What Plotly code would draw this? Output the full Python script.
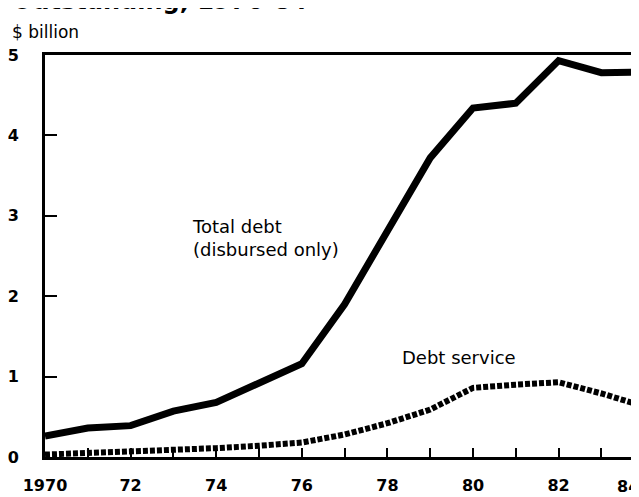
import plotly.graph_objects as go

years = list(range(1970, 1985))
total_debt = [0.26, 0.36, 0.39, 0.57, 0.68, 0.92, 1.16, 1.90, 2.82, 3.72, 4.34, 4.40, 4.93, 4.78, 4.79]
debt_service = [0.03, 0.05, 0.06, 0.08, 0.11, 0.14, 0.18, 0.28, 0.42, 0.59, 0.86, 0.90, 0.93, 0.79, 0.63]
x_tick_vals = list(range(1970, 1984))
x_tick_text = ["1970", "", "72", "", "74", "", "76", "", "78", "", "80", "", "82", ""]
y_tick_vals = [0, 1, 2, 3, 4, 5]
last_tick_label = "84"

FONT = "DejaVu Sans"
TICKFONT = dict(family=FONT, size=16, color="black", weight="bold")

fig = go.Figure()
fig.add_trace(go.Scatter(x=years, y=total_debt, mode="lines",
                         line=dict(color="black", width=7), showlegend=False))
fig.add_trace(go.Scatter(x=years, y=debt_service, mode="lines",
                         line=dict(color="black", width=6, dash="5px,2px"), showlegend=False))

fig.update_layout(
    width=631, height=489,
    margin=dict(l=37, r=0, t=47, b=40, autoexpand=False),
    paper_bgcolor="white", plot_bgcolor="white",
    font=dict(family=FONT, color="black", size=17),
    xaxis=dict(range=[1970, 1970 + 594 / 42.8], tickvals=x_tick_vals, ticktext=x_tick_text,
               ticks="inside", ticklen=9, tickwidth=1.5, tickcolor="black",
               showline=True, linecolor="black", linewidth=3, mirror=True,
               showgrid=False, zeroline=False, ticklabelstandoff=12, automargin=False,
               tickfont=TICKFONT),
    yaxis=dict(range=[0, 5], tickvals=y_tick_vals,
               ticks="inside", ticklen=12, tickwidth=1.5, tickcolor="black",
               showline=True, linecolor="black", linewidth=3,
               showgrid=False, zeroline=False, ticklabelstandoff=20, automargin=False,
               tickfont=TICKFONT),
)

fig.add_annotation(x=1, y=0, xref="paper", yref="paper", xanchor="left", yanchor="middle",
                   text=last_tick_label, showarrow=False,
                   xshift=-24, yshift=-29, font=TICKFONT)
fig.add_annotation(x=0, y=1, xref="paper", yref="paper", xanchor="left", yanchor="bottom",
                   text="$ billion", showarrow=False, xshift=-35, yshift=11,
                   font=dict(family=FONT, size=17, color="black"))
fig.add_annotation(x=1973.38, y=2.73, xref="x", yref="y", xanchor="left", yanchor="middle",
                   align="left", text="Total debt<br>(disbursed only)", showarrow=False,
                   font=dict(family=FONT, size=18, color="black"))
fig.add_annotation(x=1978.3, y=1.24, xref="x", yref="y", xanchor="left", yanchor="middle",
                   text="Debt service", showarrow=False,
                   font=dict(family=FONT, size=18, color="black"))
fig.add_annotation(x=0, y=1, xref="paper", yref="paper", xanchor="left", yanchor="bottom",
                   text="<b>Outstanding, 1970-84</b>", showarrow=False, xshift=-35, yshift=38,
                   font=dict(family=FONT, size=24, color="black"))

fig.write_html("out.html")
